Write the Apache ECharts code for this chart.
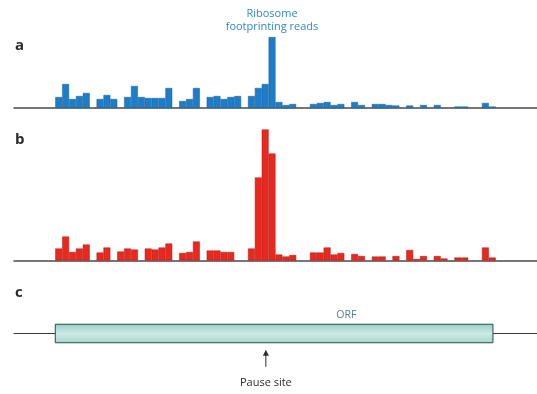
<!DOCTYPE html>
<html><head><meta charset="utf-8">
<script src="https://cdn.jsdelivr.net/npm/echarts@6/dist/echarts.min.js"></script>
<style>html,body{margin:0;padding:0;background:#fff}#c{width:537px;height:394px}</style>
</head><body><div id="c"></div>
<script>
// Relative read counts per codon bin (bin 0 = start of ORF)
const readsA = [11,24,9,12,15,0,9,13,9,0,11,22,11,10,10,10,20,0,7,9,20,0,11,12,9,11,12,0,12,20,24,71,
  6,3,4,0,0,4,5,6,3,4,0,6,3,0,4,4,3,2.5,0,2.5,0,3,0,3,0,0,1.5,1.5,0,0,5,1.5];
const readsB = [12,24,8.5,12,16,0,8,13,0,9,12,11,0,12,11,13,17,0,7.5,8.5,19,0,10,10,8.5,8.5,0,0,12,83,131,107,
  6,4,5.5,0,0,8,8,13,6,7.5,0,6.5,4.5,0,4,4,0,4.5,0,10.5,1.5,4.5,0,4.5,2,0,3,3,0,0,13,3];
const leadSlots = 6;      // empty bins upstream of the ORF
const totalSlots = 76;    // bins on the transcript axis
const orfRange = [0, 63.6];  // ORF start / end (bins)
const pauseSite = 30.6;      // bin of the pause site
const orfLabelBin = 42.3;
const labels = {a:'a', b:'b', c:'c', reads:'Ribosome\nfootprinting reads', orf:'ORF', pause:'Pause site'};

const slots = Array.from({length: totalSlots}, (_, i) => String(i));
function pad(arr){
  return slots.map((_, i) => {
    const j = i - leadSlots;
    if (j < 0 || j >= arr.length) return '-';
    return arr[j] === 0 ? '-' : arr[j];
  });
}

const chart = echarts.init(document.getElementById('c'), null, {renderer:'canvas'});
const hiddenY = {type:'value', min:0, show:false};
const catX = (gi) => ({type:'category', gridIndex:gi, data:slots, boundaryGap:true,
  axisLine:{show:true, lineStyle:{color:'#4a4a4a', width:1.5}},
  axisTick:{show:false}, axisLabel:{show:false}, splitLine:{show:false}});
const FONT = '"Liberation Sans Narrow", "Open Sans", sans-serif';

chart.setOption({
  animation:false,
  textStyle:{fontFamily:FONT},
  grid:[
    {left:14, right:0, top:28, height:80},
    {left:14, right:0, top:120.5, height:140},
    {left:14, right:0, top:314, height:39}
  ],
  xAxis:[
    catX(0), catX(1),
    {type:'value', gridIndex:2, min:0, max:totalSlots, show:true,
     axisLine:{show:true, onZero:true, lineStyle:{color:'#3a3a3a', width:1}},
     axisTick:{show:false}, axisLabel:{show:false}, splitLine:{show:false}}
  ],
  yAxis:[
    Object.assign({gridIndex:0, max:80}, hiddenY),
    Object.assign({gridIndex:1, max:140}, hiddenY),
    {type:'value', gridIndex:2, min:-1, max:1, show:false}
  ],
  graphic:[
    {type:'text', left:15, top:38, style:{text:labels.a, font:'bold 15px "Open Sans", sans-serif', fill:'#2b2b2b'}},
    {type:'text', left:15, top:132, style:{text:labels.b, font:'bold 15px "Open Sans", sans-serif', fill:'#2b2b2b'}},
    {type:'text', left:15, top:285, style:{text:labels.c, font:'bold 15px "Open Sans", sans-serif', fill:'#2b2b2b'}},
    {type:'text', x:272, y:7, style:{text:labels.reads, align:'center', lineHeight:13.5,
      font:'11px ' + FONT, fill:'#2f8ad0'}}
  ],
  series:[
    {type:'bar', xAxisIndex:0, yAxisIndex:0, data:pad(readsA), barCategoryGap:'0%',
     itemStyle:{color:'#1f7cc6', borderColor:'#16609c', borderWidth:0.5}},
    {type:'bar', xAxisIndex:1, yAxisIndex:1, data:pad(readsB), barCategoryGap:'0%',
     itemStyle:{color:'#e8291f', borderColor:'#b01a14', borderWidth:0.5}},
    {type:'custom', xAxisIndex:2, yAxisIndex:2, clip:false,
     data:[[orfRange[0] + leadSlots, orfRange[1] + leadSlots]],
     renderItem:(params, api) => {
       const p0 = api.coord([api.value(0), 0.475]);
       const p1 = api.coord([api.value(1), -0.475]);
       return {type:'group', children:[
         {type:'rect', shape:{x:p0[0], y:p0[1], width:p1[0]-p0[0], height:p1[1]-p0[1]},
          style:{fill:new echarts.graphic.LinearGradient(0,0,0,1,[
            {offset:0, color:'#94cdc6'},{offset:0.5, color:'#cdeae6'},{offset:1, color:'#a3d4ce'}]),
            stroke:'#244f4b', lineWidth:1}},
         {type:'text', x:api.coord([orfLabelBin + leadSlots, 0])[0], y:p0[1]-15,
          style:{text:labels.orf, align:'center', font:'10.5px ' + FONT, fill:'#4f8190'}}
       ]};
     }},
    {type:'custom', xAxisIndex:2, yAxisIndex:2, clip:false,
     data:[[pauseSite + leadSlots]],
     renderItem:(params, api) => {
       const b = api.coord([api.value(0), -0.475]);
       const x = b[0], tip = b[1] + 7, tail = b[1] + 24;
       return {type:'group', children:[
         {type:'line', shape:{x1:x, y1:tip+4, x2:x, y2:tail}, style:{stroke:'#2b2b2b', lineWidth:1}},
         {type:'polygon', shape:{points:[[x, tip],[x-3, tip+6],[x+3, tip+6]]}, style:{fill:'#2b2b2b'}},
         {type:'text', x:x, y:tail+16, style:{text:labels.pause, align:'center', verticalAlign:'middle',
          font:'11px ' + FONT, fill:'#2b2b2b'}}
       ]};
     }}
  ]
});
</script></body></html>
